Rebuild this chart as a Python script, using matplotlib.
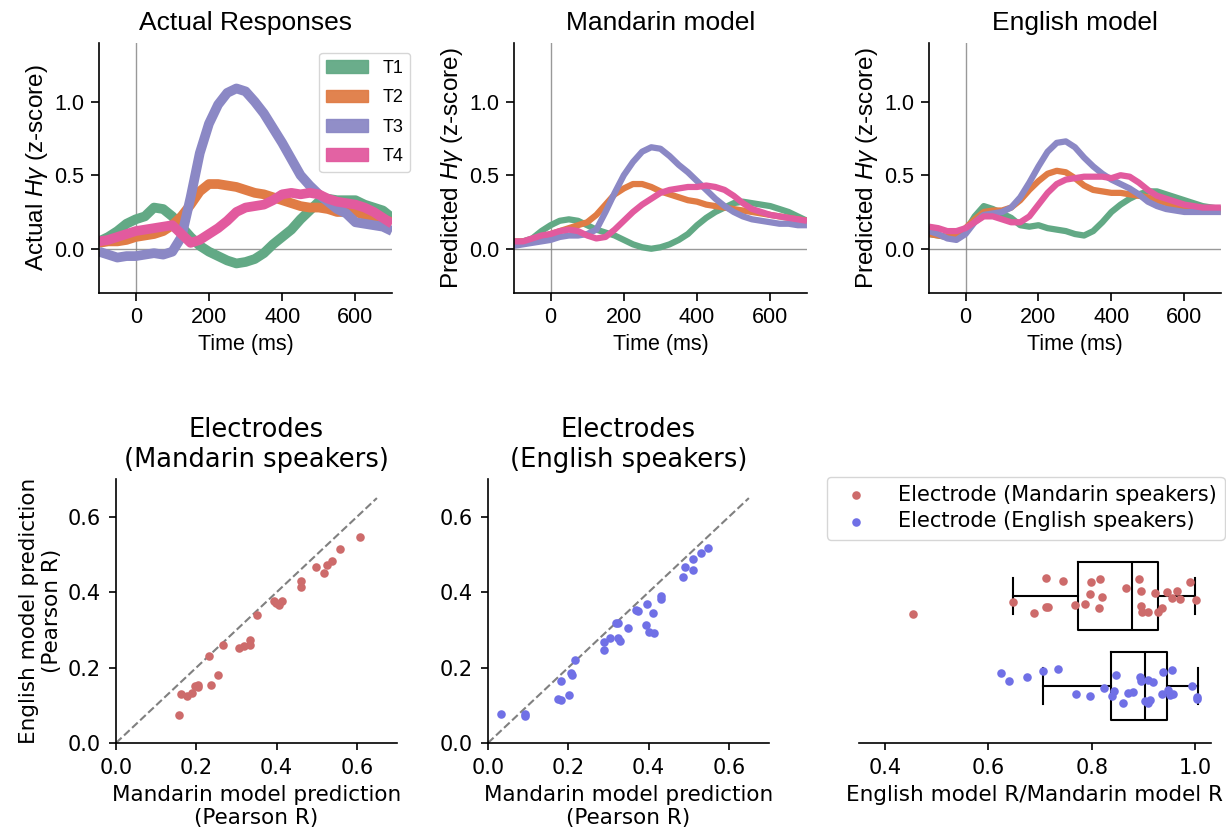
import numpy as np
import matplotlib
matplotlib.use('Agg')
import matplotlib.pyplot as plt
from matplotlib.patches import Patch

plt.rcParams['font.family'] = 'DejaVu Sans'
plt.rcParams['mathtext.fontset'] = 'custom'
plt.rcParams['mathtext.it'] = 'Liberation Sans:italic'
plt.rcParams['mathtext.rm'] = 'Liberation Sans'
plt.rcParams['axes.linewidth'] = 1.2

ARIAL = 'Liberation Sans'

# time axis (ms), values read every 25 ms
time_ms = np.arange(-100, 701, 25)
tone_labels = ['T1', 'T2', 'T3', 'T4']
tone_colors = ['#62a985', '#e07c45', '#8b88c5', '#e25a9e']

actual_t1 = [0.05, 0.08, 0.12, 0.17, 0.20, 0.22, 0.28, 0.27, 0.22, 0.15, 0.08, 0.02, -0.02,
             -0.05, -0.08, -0.10, -0.09, -0.07, -0.03, 0.03, 0.08, 0.13, 0.20, 0.26, 0.32,
             0.34, 0.33, 0.33, 0.33, 0.30, 0.28, 0.26, 0.21]
actual_t2 = [0.04, 0.05, 0.05, 0.06, 0.08, 0.09, 0.10, 0.12, 0.16, 0.22, 0.30, 0.39, 0.44,
             0.44, 0.43, 0.42, 0.40, 0.38, 0.37, 0.35, 0.33, 0.31, 0.29, 0.28, 0.28,
             0.27, 0.25, 0.25, 0.25, 0.23, 0.21, 0.20, 0.18]
actual_t3 = [-0.02, -0.04, -0.06, -0.05, -0.05, -0.04, -0.03, -0.04, -0.02, 0.08, 0.35, 0.65, 0.85,
             0.98, 1.06, 1.09, 1.07, 1.00, 0.92, 0.82, 0.72, 0.61, 0.50, 0.43, 0.37,
             0.32, 0.27, 0.24, 0.18, 0.17, 0.16, 0.15, 0.12]
actual_t4 = [0.05, 0.06, 0.08, 0.10, 0.12, 0.13, 0.14, 0.15, 0.16, 0.10, 0.04, 0.06, 0.10,
             0.14, 0.19, 0.25, 0.28, 0.29, 0.30, 0.33, 0.37, 0.38, 0.37, 0.38, 0.37,
             0.34, 0.32, 0.31, 0.30, 0.28, 0.25, 0.21, 0.17]

mandarin_t1 = [0.03, 0.05, 0.07, 0.12, 0.16, 0.19, 0.20, 0.19, 0.16, 0.13, 0.11, 0.09, 0.06,
               0.03, 0.01, 0.00, 0.01, 0.03, 0.06, 0.10, 0.16, 0.21, 0.25, 0.28, 0.31,
               0.32, 0.31, 0.30, 0.29, 0.27, 0.25, 0.22, 0.19]
mandarin_t2 = [0.05, 0.05, 0.06, 0.08, 0.10, 0.12, 0.14, 0.16, 0.18, 0.23, 0.30, 0.37, 0.41,
               0.44, 0.44, 0.42, 0.39, 0.37, 0.35, 0.33, 0.32, 0.30, 0.29, 0.28, 0.27,
               0.26, 0.25, 0.24, 0.23, 0.22, 0.21, 0.20, 0.19]
mandarin_t3 = [0.02, 0.03, 0.04, 0.05, 0.06, 0.08, 0.09, 0.09, 0.10, 0.13, 0.25, 0.38, 0.50,
               0.59, 0.66, 0.69, 0.68, 0.63, 0.57, 0.52, 0.46, 0.40, 0.34, 0.29, 0.25,
               0.22, 0.20, 0.19, 0.18, 0.17, 0.17, 0.16, 0.16]
mandarin_t4 = [0.05, 0.05, 0.07, 0.09, 0.10, 0.12, 0.13, 0.12, 0.09, 0.07, 0.08, 0.13, 0.19,
               0.25, 0.30, 0.34, 0.38, 0.40, 0.41, 0.42, 0.42, 0.43, 0.42, 0.40, 0.36,
               0.31, 0.27, 0.25, 0.23, 0.22, 0.21, 0.20, 0.19]

english_t1 = [0.10, 0.09, 0.08, 0.08, 0.12, 0.22, 0.29, 0.27, 0.24, 0.21, 0.16, 0.15, 0.16,
              0.14, 0.13, 0.12, 0.10, 0.09, 0.12, 0.18, 0.25, 0.30, 0.34, 0.37, 0.39,
              0.39, 0.37, 0.35, 0.33, 0.31, 0.29, 0.28, 0.27]
english_t2 = [0.10, 0.09, 0.08, 0.09, 0.14, 0.20, 0.25, 0.26, 0.26, 0.28, 0.33, 0.40, 0.46,
              0.51, 0.53, 0.52, 0.48, 0.43, 0.40, 0.39, 0.38, 0.38, 0.37, 0.36, 0.35,
              0.33, 0.31, 0.29, 0.28, 0.27, 0.26, 0.26, 0.25]
english_t3 = [0.12, 0.10, 0.07, 0.06, 0.10, 0.18, 0.23, 0.24, 0.25, 0.28, 0.35, 0.45, 0.56,
              0.66, 0.72, 0.73, 0.69, 0.62, 0.56, 0.51, 0.47, 0.44, 0.41, 0.37, 0.32,
              0.29, 0.27, 0.26, 0.25, 0.25, 0.25, 0.25, 0.25]
english_t4 = [0.15, 0.14, 0.12, 0.12, 0.14, 0.18, 0.22, 0.22, 0.20, 0.18, 0.18, 0.22, 0.30,
              0.38, 0.44, 0.47, 0.48, 0.49, 0.49, 0.49, 0.48, 0.50, 0.49, 0.45, 0.40,
              0.36, 0.34, 0.32, 0.30, 0.29, 0.28, 0.28, 0.28]

# electrode prediction accuracy (Pearson R)
mand_spk_mandarin_r = [0.158, 0.163, 0.178, 0.189, 0.197, 0.205, 0.205, 0.232, 0.237, 0.254,
                       0.266, 0.306, 0.318, 0.333, 0.333, 0.351, 0.393, 0.399, 0.407, 0.414,
                       0.461, 0.461, 0.499, 0.518, 0.525, 0.539, 0.557, 0.608]
mand_spk_english_r = [0.073, 0.131, 0.124, 0.133, 0.150, 0.148, 0.155, 0.232, 0.155, 0.181,
                      0.259, 0.252, 0.257, 0.274, 0.261, 0.339, 0.376, 0.372, 0.365, 0.376,
                      0.414, 0.431, 0.467, 0.451, 0.472, 0.483, 0.515, 0.547]

eng_spk_mandarin_r = [0.033, 0.092, 0.092, 0.174, 0.182, 0.182, 0.203, 0.207, 0.209, 0.218,
                      0.290, 0.290, 0.305, 0.318, 0.323, 0.323, 0.328, 0.348, 0.370, 0.374,
                      0.393, 0.395, 0.401, 0.413, 0.412, 0.432, 0.432, 0.486, 0.491, 0.510,
                      0.512, 0.530, 0.547]
eng_spk_english_r = [0.078, 0.078, 0.071, 0.117, 0.115, 0.165, 0.127, 0.186, 0.181, 0.219,
                     0.246, 0.268, 0.278, 0.319, 0.319, 0.278, 0.270, 0.304, 0.354, 0.349,
                     0.312, 0.370, 0.295, 0.292, 0.345, 0.391, 0.383, 0.440, 0.467, 0.458,
                     0.488, 0.504, 0.517]

# ratio English R / Mandarin R per electrode, with the strip jitter seen in the figure
mand_ratio = [0.712, 0.744, 0.799, 0.815, 0.891, 0.990, 0.866, 0.895, 0.922, 0.945, 0.964,
              0.797, 0.819, 0.955, 0.970, 1.001, 0.648, 0.712, 0.716, 0.768, 0.786, 0.814,
              0.895, 0.896, 0.908, 0.927, 0.936, 0.688, 0.454]
mand_jitter = [-0.198, -0.165, -0.161, -0.187, -0.187, -0.161, -0.087, -0.061, -0.031, -0.050,
               -0.054, -0.024, 0.006, 0.024, 0.031, 0.043, 0.069, 0.117, 0.124, 0.094, 0.087,
               0.131, 0.113, 0.180, 0.172, 0.180, 0.135, 0.183, 0.198]
eng_ratio = [0.624, 0.640, 0.674, 0.706, 0.735, 0.846, 0.893, 0.895, 0.908, 0.919, 0.938,
             0.954, 0.993, 0.824, 0.843, 0.839, 0.770, 0.797, 0.870, 0.880, 0.860, 0.903,
             0.912, 0.909, 0.935, 0.948, 0.951, 0.957, 1.003, 1.003]
eng_jitter = [-0.143, -0.056, -0.100, -0.167, -0.193, -0.126, -0.104, -0.059, -0.070, -0.041,
              -0.159, -0.178, 0.004, 0.026, 0.059, 0.111, 0.089, 0.111, 0.078, 0.067, 0.189,
              0.163, 0.152, 0.189, 0.093, 0.048, 0.104, 0.089, 0.126, 0.148]

# box summaries (whisker low, Q1, median, Q3, whisker high)
mand_box = [0.648, 0.773, 0.878, 0.928, 1.000]
eng_box = [0.706, 0.837, 0.903, 0.945, 1.005]

RED = '#cd6b6b'
BLUE = '#7070e6'


def style_spines(ax, left=True):
    ax.spines['top'].set_visible(False)
    ax.spines['right'].set_visible(False)
    if not left:
        ax.spines['left'].set_visible(False)


def plot_time_panel(ax, series, title, ylabel, lw):
    ax.axhline(0, color='gray', lw=1, alpha=0.8, zorder=0)
    ax.axvline(0, color='gray', lw=1, alpha=0.8, zorder=0)
    for vals, c in zip(series, tone_colors):
        ax.plot(time_ms, vals, color=c, lw=lw, solid_capstyle='butt', solid_joinstyle='round')
    ax.set_xlim(-100, 700)
    ax.set_ylim(-0.3, 1.4)
    ax.set_xticks([0, 200, 400, 600])
    ax.set_yticks([0.0, 0.5, 1.0])
    ax.set_yticklabels(['0.0', '0.5', '1.0'])
    ax.tick_params(labelsize=15.5, labelfontfamily=ARIAL, length=5.5, width=1.2, pad=5)
    ax.set_title(title, fontsize=19, family=ARIAL, pad=9)
    ax.set_xlabel('Time (ms)', fontsize=15.5, family=ARIAL, labelpad=4)
    ax.set_ylabel(ylabel, fontsize=17.5, family=ARIAL, labelpad=3)
    style_spines(ax)


def plot_scatter_panel(ax, xs, ys, color, title, ylabel=None):
    ax.plot([0, 0.65], [0, 0.65], ls='--', color='gray', lw=1.5, zorder=0)
    ax.scatter(xs, ys, s=38, color=color, linewidths=0)
    ax.set_xlim(0, 0.7)
    ax.set_ylim(0, 0.7)
    ax.set_xticks([0.0, 0.2, 0.4, 0.6])
    ax.set_yticks([0.0, 0.2, 0.4, 0.6])
    ax.tick_params(labelsize=15, length=5, width=1.2, pad=6)
    ax.set_title(title, fontsize=18.5, pad=9)
    ax.set_xlabel('Mandarin model prediction\n(Pearson R)', fontsize=15.5, labelpad=5)
    if ylabel:
        ax.set_ylabel(ylabel, fontsize=15.5)
    style_spines(ax)


fig = plt.figure(figsize=(12.26, 8.32), dpi=100)

ax1 = fig.add_axes([0.0808, 0.648, 0.239, 0.3005])
ax2 = fig.add_axes([0.4192, 0.648, 0.239, 0.3005])
ax3 = fig.add_axes([0.7578, 0.648, 0.238, 0.3005])

plot_time_panel(ax1, [actual_t1, actual_t2, actual_t3, actual_t4],
                'Actual Responses', r'Actual $H\gamma$ (z-score)', 7)
plot_time_panel(ax2, [mandarin_t1, mandarin_t2, mandarin_t3, mandarin_t4],
                'Mandarin model', r'Predicted $H\gamma$ (z-score)', 4.5)
plot_time_panel(ax3, [english_t1, english_t2, english_t3, english_t4],
                'English model', r'Predicted $H\gamma$ (z-score)', 4.5)

handles = [Patch(facecolor=c, edgecolor=c, alpha=0.95) for c in tone_colors]
ax1.legend(handles, tone_labels, loc='upper right', bbox_to_anchor=(1.062, 0.96),
           borderaxespad=0, handlelength=2.3, handleheight=0.7, labelspacing=0.68,
           prop={'family': ARIAL, 'size': 13})

ax4 = fig.add_axes([0.0946, 0.107, 0.2292, 0.317])
ax5 = fig.add_axes([0.398, 0.107, 0.2292, 0.317])
ax6 = fig.add_axes([0.7007, 0.107, 0.287, 0.317])

plot_scatter_panel(ax4, mand_spk_mandarin_r, mand_spk_english_r, RED,
                   'Electrodes\n(Mandarin speakers)',
                   'English model prediction\n(Pearson R)')
plot_scatter_panel(ax5, eng_spk_mandarin_r, eng_spk_english_r, BLUE,
                   'Electrodes\n(English speakers)')

# ratio panel: boxes plus strip of electrodes
box_stats = []
for vals in [mand_box, eng_box]:
    box_stats.append({'whislo': vals[0], 'q1': vals[1], 'med': vals[2],
                      'q3': vals[3], 'whishi': vals[4], 'fliers': []})
line_kw = {'color': 'black', 'lw': 1.5}
ax6.bxp(box_stats, positions=[0, 1], widths=0.75, orientation='horizontal',
        capwidths=0.4, boxprops=line_kw, medianprops=line_kw,
        whiskerprops=line_kw, capprops=line_kw, manage_ticks=False)
ax6.scatter(mand_ratio, 0 + np.array(mand_jitter), s=38, color=RED, linewidths=0,
            zorder=3, label='Electrode (Mandarin speakers)')
ax6.scatter(eng_ratio, 1 + np.array(eng_jitter), s=38, color=BLUE, linewidths=0,
            zorder=3, label='Electrode (English speakers)')
ax6.set_xlim(0.35, 1.03)
ax6.set_ylim(1.633, -1.3)
ax6.set_yticks([])
ax6.set_xticks([0.4, 0.6, 0.8, 1.0])
ax6.tick_params(labelsize=15, length=5, width=1.2, pad=6)
ax6.set_xlabel('English model R/Mandarin model R', fontsize=15.5, labelpad=5)
style_spines(ax6, left=False)
ax6.legend(loc='upper left', bbox_to_anchor=(-0.092, 1.01), borderaxespad=0,
           fontsize=15, handletextpad=1.0, labelspacing=0.3)

fig.savefig('out.png', dpi=100)
